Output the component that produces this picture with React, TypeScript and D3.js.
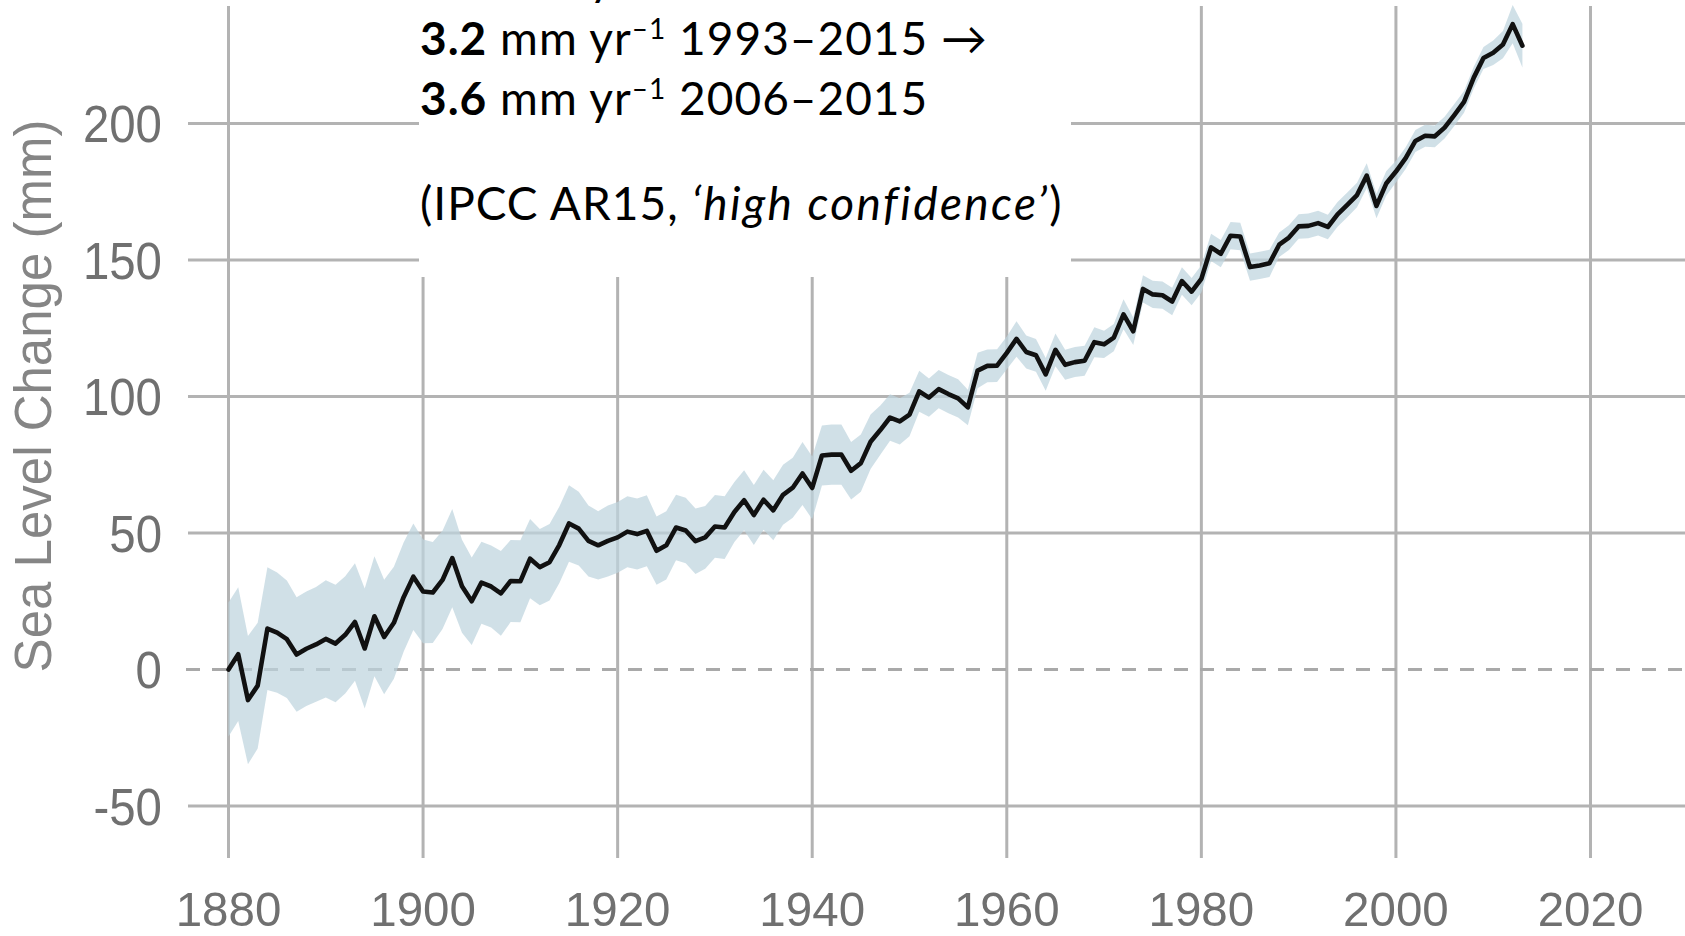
import * as d3 from 'd3';

// CSIRO-style reconstructed global mean sea level, annual values (mm), 1880..2013
const FIRST_YEAR = 1880;
const seaLevelMm = [
  0.0, 5.6, -11.2, -5.9, 15.0, 13.5, 11.1, 5.5, 7.6, 9.2,
  11.2, 9.5, 12.7, 17.4, 7.7, 19.5, 11.9, 17.1, 26.5, 34.0,
  28.6, 28.2, 32.8, 40.8, 30.5, 25.0, 31.8, 30.4, 27.9, 32.4,
  32.3, 40.6, 37.5, 39.3, 45.6, 53.5, 51.6, 47.1, 45.5, 47.1,
  48.4, 50.5, 49.6, 50.8, 43.5, 45.5, 52.0, 50.9, 47.0, 48.4,
  52.4, 52.0, 57.7, 62.0, 56.6, 62.2, 58.3, 64.0, 66.6, 71.8,
  66.5, 78.4, 78.7, 78.7, 72.8, 75.6, 83.4, 87.7, 92.3, 90.9,
  93.4, 101.9, 99.6, 102.7, 100.9, 99.3, 96.0, 109.5, 111.2, 111.3,
  116.0, 121.1, 116.3, 115.1, 108.1, 117.1, 111.6, 112.6, 113.1, 119.9,
  119.1, 121.6, 130.1, 123.9, 139.4, 137.4, 137.1, 134.8, 142.3, 138.4,
  143.1, 154.6, 152.3, 158.9, 158.6, 147.4, 148.0, 148.8, 155.6, 158.2,
  162.3, 162.5, 163.5, 162.1, 166.7, 170.2, 173.8, 180.9, 169.8, 178.0,
  182.4, 187.3, 193.6, 195.5, 195.3, 198.5, 203.1, 207.9, 216.8, 224.0,
  225.9, 228.9, 236.4, 228.5,
];

// half width of the uncertainty band (mm), same years
const uncertaintyMm = [
  24.5, 24.5, 23.5, 23, 22.5, 22, 21.5, 21, 21, 21,
  21.5, 21.5, 21.5, 21.5, 22, 22, 21, 20.5, 20, 19.5,
  19, 18.5, 18, 18, 17, 16, 15, 15, 15.5, 15,
  15, 14.5, 14, 14, 14, 14, 13.5, 13, 12.5, 13,
  13, 13, 13, 13, 12.5, 12.5, 12, 12, 12, 11.5,
  11.5, 11.5, 11, 11, 11, 11, 11, 11, 11, 11.5,
  11.5, 11, 11, 11, 10.5, 10.5, 10, 9, 8.5, 8.5,
  8, 7.5, 7, 7, 7, 7, 6.5, 6.5, 6, 6,
  6, 6.5, 6, 6, 6, 6, 5.5, 5.5, 5.5, 5.5,
  5, 5, 5.5, 5, 5, 5, 5, 5, 5, 5,
  5, 5, 5, 5, 5, 5, 5, 5, 4.5, 4.5,
  4.5, 4.5, 4.5, 4.5, 4.5, 4.5, 4.5, 4.5, 4.5, 4.5,
  4, 4, 4, 4, 4, 4, 4, 4, 4, 4,
  4.5, 5, 7, 8,
];

const yearTicks = [1880, 1900, 1920, 1940, 1960, 1980, 2000, 2020];
const levelTicks = [-50, 0, 50, 100, 150, 200];

const noteRates = [
  { rate: '1.4', period: '1901–1990 →' },
  { rate: '3.2', period: '1993–2015 →' },
  { rate: '3.6', period: '2006–2015' },
];
const noteSource = '(IPCC AR15, ';
const noteConfidence = '‘high confidence’';

const W = 1685;
const H = 936;
const GRID = '#b3b3b3';
const TICK_TEXT = '#707070';

export default function App() {
  const x = d3.scaleLinear().domain([1880, 2020]).range([228.5, 1590.5]);
  const y = d3.scaleLinear().domain([-50, 200]).range([806, 123.5]);

  const rows = seaLevelMm.map((value, i) => ({
    year: FIRST_YEAR + i,
    value,
    err: uncertaintyMm[i],
  }));

  const band = d3.area<any>()
    .x((d) => x(d.year))
    .y0((d) => y(d.value - d.err))
    .y1((d) => y(d.value + d.err));

  const line = d3.line<any>()
    .x((d) => x(d.year))
    .y((d) => y(d.value));

  return (
    <svg
      width={W}
      height={H}
      viewBox={`0 0 ${W} ${H}`}
      style={{ position: 'absolute', left: 0, top: 0, background: '#fff' }}
    >
      {/* grid */}
      {yearTicks.map((t) => (
        <line key={`v${t}`} x1={x(t)} x2={x(t)} y1={6} y2={858} stroke={GRID} strokeWidth={3} />
      ))}
      {levelTicks.filter((t) => t !== 0).map((t) => (
        <line key={`h${t}`} x1={188} x2={W} y1={y(t)} y2={y(t)} stroke={GRID} strokeWidth={3} />
      ))}
      <line x1={186} x2={W} y1={y(0)} y2={y(0)} stroke="#a9a9a9" strokeWidth={3} strokeDasharray="14 12" />

      {/* uncertainty band + series */}
      <path d={band(rows) || ''} fill="#bed4de" fillOpacity={0.72} />
      <path
        d={line(rows) || ''}
        fill="none"
        stroke="#111"
        strokeWidth={4.6}
        strokeLinejoin="round"
        strokeLinecap="round"
      />

      {/* tick labels */}
      <g fontFamily="'Liberation Sans', Arial, sans-serif" fill={TICK_TEXT}>
        {levelTicks.map((t) => (
          <text
            key={`yl${t}`}
            fontSize={51}
            transform={`translate(162,${y(t) + 18.5}) scale(0.93,1)`}
            textAnchor="end"
          >
            {t}
          </text>
        ))}
        {yearTicks.map((t) => (
          <text
            key={`xl${t}`}
            fontSize={49}
            transform={`translate(${x(t)},925.5) scale(0.97,1)`}
            textAnchor="middle"
          >
            {t}
          </text>
        ))}
      </g>
      <text
        transform="translate(51,396) rotate(-90)"
        textAnchor="middle"
        fontFamily="'Liberation Sans', Arial, sans-serif"
        fontSize={51}
        fill="#858585"
      >
        Sea Level Change (mm)
      </text>

      {/* annotation box */}
      <rect x={419} y={0} width={652} height={277} fill="#fff" />
      <g fontFamily="Lato, 'Open Sans', sans-serif" fontSize={46} letterSpacing={1} fill="#000">
        {noteRates.map((n, i) => (
          <text key={n.rate} x={420} y={-5 + i * 60}>
            <tspan fontWeight="bold">{n.rate}</tspan>
            {' mm yr'}
            <tspan fontSize={28} dy={-16}>–1</tspan>
            <tspan dy={16}>{' ' + n.period}</tspan>
          </text>
        ))}
        <text x={420} y={220}>
          {noteSource}
          <tspan fontStyle="italic" letterSpacing={2.4}>{noteConfidence}</tspan>
          {')'}
        </text>
      </g>
    </svg>
  );
}
